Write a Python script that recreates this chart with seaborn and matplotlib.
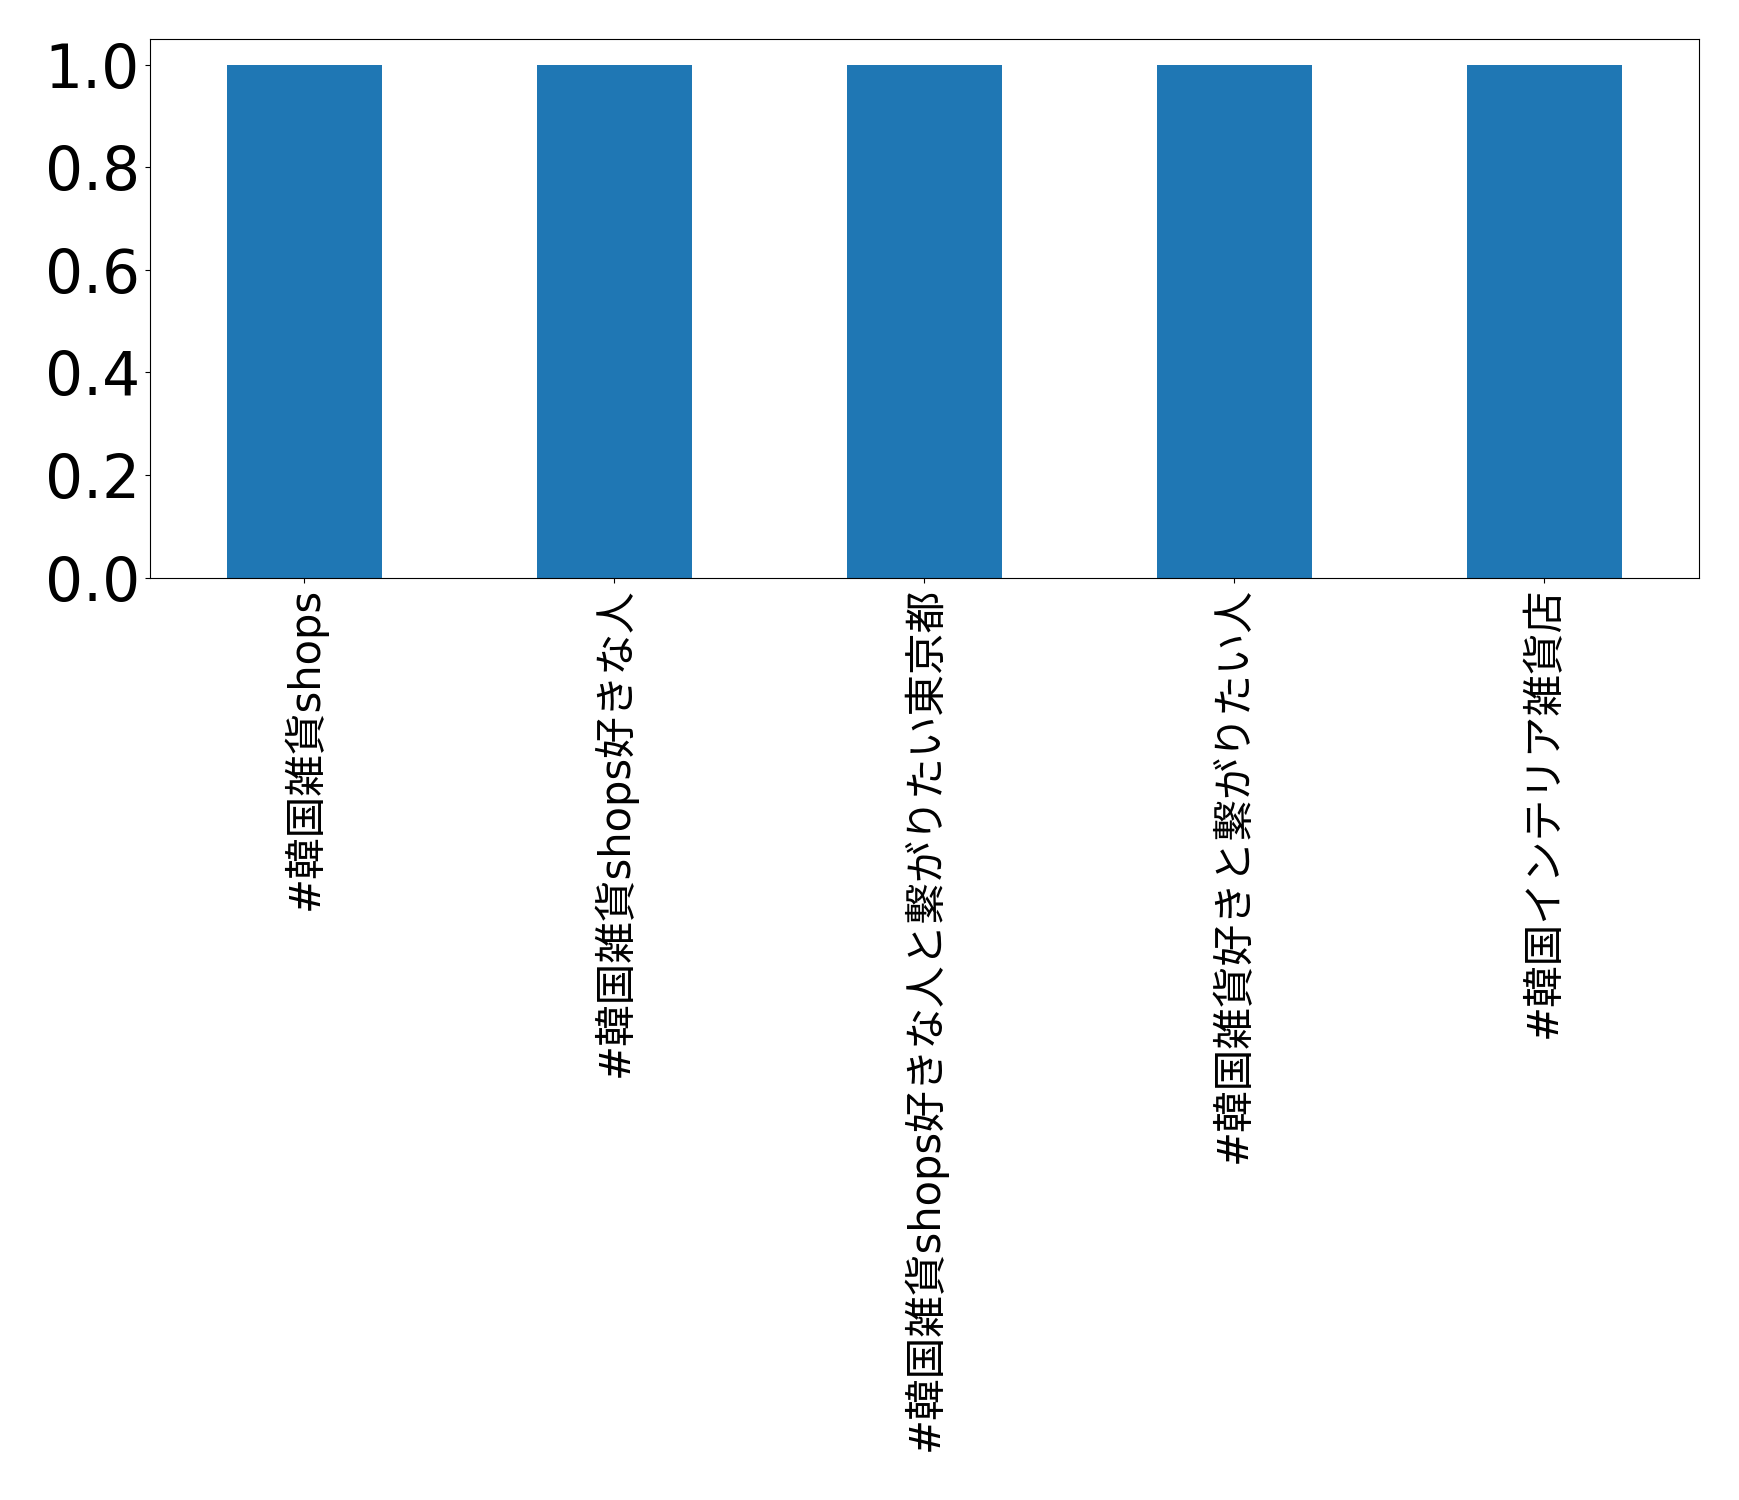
import pandas as pd
import matplotlib
matplotlib.use("Agg")
import matplotlib.pyplot as plt
import matplotlib.ticker as mticker
import seaborn as sns

# -----------------------------------------------------------------------------
# DATA
# -----------------------------------------------------------------------------

hashtags = [
    "#韓国雑貨shops",
    "#韓国雑貨shops好きな人",
    "#韓国雑貨shops好きな人と繋がりたい東京都",
    "#韓国雑貨好きと繋がりたい人",
    "#韓国インテリア雑貨店",
]
counts = [1, 1, 1, 1, 1]

df = pd.DataFrame({"hashtag": hashtags, "count": counts})

# -----------------------------------------------------------------------------
# PLOT
# -----------------------------------------------------------------------------

plt.rcParams["font.family"] = ["DejaVu Sans", "Noto Sans CJK JP"]

fig = plt.figure(figsize=(17.39, 15), dpi=100)
ax = fig.add_axes([0.086, 0.615, 0.891, 0.359])

sns.barplot(data=df, x="hashtag", y="count", color="#1f77b4",
            saturation=1, width=0.5, ax=ax)

ax.set_xlim(-0.5, 4.5)
ax.set_ylim(0, 1.05)
ax.yaxis.set_major_locator(mticker.MultipleLocator(0.2))
ax.set_xlabel("")
ax.set_ylabel("")
ax.tick_params(axis="y", labelsize=43)
ax.tick_params(axis="x", labelsize=30, labelrotation=90)

plt.savefig("out.png", dpi=100)
plt.close()
